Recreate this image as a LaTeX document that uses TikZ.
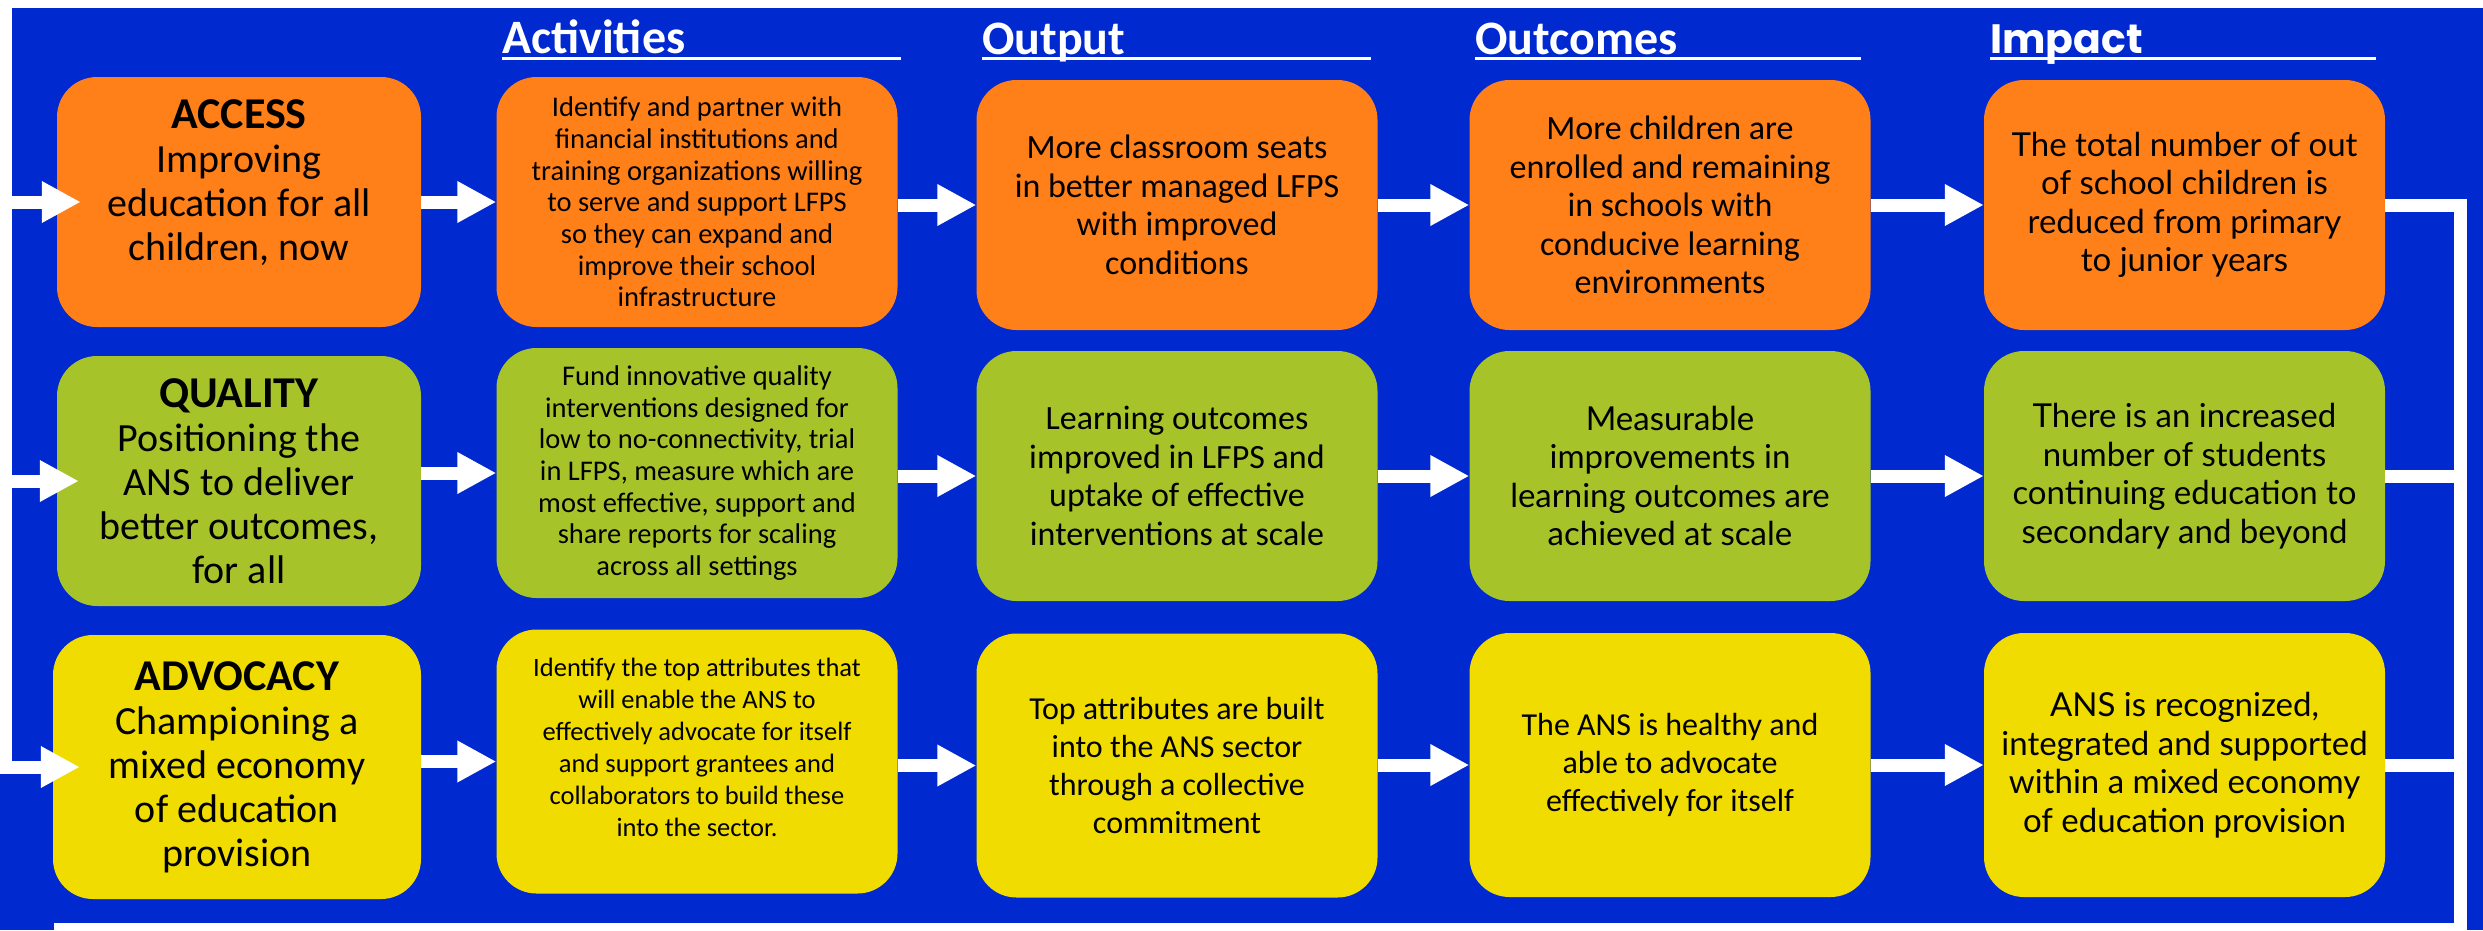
\documentclass[tikz,border=0pt]{standalone}
\usepackage{fontspec}
\setmainfont{Carlito}
\newfontfamily\latofont{Lato}
\newfontfamily\popfont{Poppins}
\usetikzlibrary{arrows.meta,positioning}

\definecolor{bgblue}{RGB}{0,41,207}
\definecolor{accorange}{RGB}{255,127,24}
\definecolor{qualgreen}{RGB}{166,196,42}
\definecolor{advyellow}{RGB}{240,220,0}

\begin{document}
\begin{tikzpicture}[x=1pt, y=-1pt,
    cell/.style={rounded corners=40pt, minimum width=401pt, minimum height=250pt, inner sep=0pt, align=center, text=black},
    lastrow/.style={minimum height=264pt},
    title/.style={minimum width=364pt, font=\fontsize{40}{44}\selectfont},
    act/.style={font=\fontsize{28.5}{31.7}\selectfont},
    outp/.style={font=\fontsize{34}{38.5}\selectfont},
    lato/.style={font=\latofont\fontsize{33}{38.5}\selectfont},
    head/.style={anchor=base west, inner sep=0pt, text=white, font=\bfseries\fontsize{48}{50}\selectfont},
    uline/.style={white, line width=3pt},
    flow/.style={white, line width=13pt, -{Triangle[length=39pt, width=39pt]}},
    loopline/.style={white, line width=13pt}
]
    \useasboundingbox (0,0) rectangle (2483,930);
    \clip (0,0) rectangle (2483,930);

    % Background
    \fill[white] (0,0) rectangle (2483,930);
    \fill[bgblue] (0,8) rectangle (2483,930);

    % Column headings
    \node[head] (hAct) at (502,53) {Activities};
    \node[head] (hOut) at (982,54) {Output};
    \node[head] (hOcm) at (1475,54) {Outcomes};
    \node[head, font=\popfont\bfseries\fontsize{41}{44}\selectfont] (hImp) at (1990,53) {Impact};
    \draw[uline] ([yshift=-5pt]hAct.base west) -- ++(399,0);
    \draw[uline] ([yshift=-4pt]hOut.base west) -- ++(389,0);
    \draw[uline] ([yshift=-4pt]hOcm.base west) -- ++(386,0);
    \draw[uline] ([yshift=-5pt]hImp.base west) -- ++(386,0);

    % Row 1: access
    \node[cell, title, fill=accorange] (acc) at (239,202)
        {\textbf{\fontsize{44}{44}\selectfont ACCESS}\\Improving\\education for all\\children, now\\[-1pt]\rule{0pt}{0pt}};
    \node[cell, act, fill=accorange] (act1) at (697,202)
        {Identify and partner with\\financial institutions and\\training organizations willing\\to serve and support LFPS\\so they can expand and\\improve their school\\infrastructure};
    \node[cell, outp, fill=accorange] (out1) at (1177,205)
        {More classroom seats\\in better managed LFPS\\with improved\\conditions};
    \node[cell, outp, fill=accorange] (ocm1) at (1670,205)
        {More children are\\enrolled and remaining\\in schools with\\conducive learning\\environments};
    \node[cell, lato, fill=accorange] (imp1) at (2184.5,205)
        {The total number of out\\of school children is\\reduced from primary\\to junior years};

    % Row 2: quality
    \node[cell, title, fill=qualgreen] (qual) at (239,481)
        {\textbf{\fontsize{44}{44}\selectfont QUALITY}\\Positioning the\\ANS to deliver\\better outcomes,\\for all};
    \node[cell, act, fill=qualgreen] (act2) at (697,473)
        {Fund innovative quality\\interventions designed for\\low to no-connectivity, trial\\in LFPS, measure which are\\most effective, support and\\share reports for scaling\\across all settings};
    \node[cell, outp, fill=qualgreen] (out2) at (1177,476)
        {Learning outcomes\\improved in LFPS and\\uptake of effective\\interventions at scale};
    \node[cell, lato, fill=qualgreen] (ocm2) at (1670,476)
        {Measurable\\improvements in\\learning outcomes are\\achieved at scale};
    \node[cell, lato, fill=qualgreen] (imp2) at (2184.5,476)
        {There is an increased\\number of students\\continuing education to\\secondary and beyond};

    % Row 3: advocacy
    \node[cell, title, lastrow, minimum width=368pt, fill=advyellow] (adv) at (237,767)
        {\textbf{\fontsize{44}{44}\selectfont ADVOCACY}\\Championing a\\mixed economy\\of education\\provision};
    \node[cell, lastrow, fill=advyellow, font=\fontsize{26.5}{32}\selectfont] (act3) at (697,761.5)
        {Identify the top attributes that\\will enable the ANS to\\effectively advocate for itself\\and support grantees and\\collaborators to build these\\into the sector.\\[-3pt]\rule{0pt}{0pt}};
    \node[cell, lastrow, fill=advyellow, font=\fontsize{32}{38}\selectfont] (out3) at (1177,765.5)
        {Top attributes are built\\into the ANS sector\\through a collective\\commitment};
    \node[cell, lastrow, fill=advyellow, font=\fontsize{32}{38}\selectfont] (ocm3) at (1670,765)
        {The ANS is healthy and\\able to advocate\\effectively for itself};
    \node[cell, lastrow, lato, fill=advyellow] (imp3) at (2184.5,765)
        {ANS is recognized,\\integrated and supported\\within a mixed economy\\of education provision};

    % Feedback loop
    \coordinate (lt) at (5.5,0);
    \coordinate (rc) at (2460.5,929.5);
    \coordinate (bl) at (54,929.5);
    \draw[loopline] (imp1.east) -| (rc) -- (bl);
    \draw[loopline] (imp2.east) -- (imp2.east -| rc);
    \draw[loopline] (imp3.east) -- (imp3.east -| rc);
    \draw[flow] (lt) |- ([xshift=27pt]adv.west);
    \draw[flow] (lt |- acc.west) -- ([xshift=24pt]acc.west);
    \draw[flow] (lt |- qual.west) -- ([xshift=22pt]qual.west);

    % Flow arrows
    \draw[flow] (acc.east |- act1.west) -- (act1.west);
    \draw[flow] (act1.east |- out1.west) -- (out1.west);
    \draw[flow] (out1.east |- ocm1.west) -- (ocm1.west);
    \draw[flow] (ocm1.east |- imp1.west) -- (imp1.west);
    \draw[flow] (qual.east |- act2.west) -- (act2.west);
    \draw[flow] (act2.east |- out2.west) -- (out2.west);
    \draw[flow] (out2.east |- ocm2.west) -- (ocm2.west);
    \draw[flow] (ocm2.east |- imp2.west) -- (imp2.west);
    \draw[flow] (adv.east |- act3.west) -- (act3.west);
    \draw[flow] (act3.east |- out3.west) -- (out3.west);
    \draw[flow] (out3.east |- ocm3.west) -- (ocm3.west);
    \draw[flow] (ocm3.east |- imp3.west) -- (imp3.west);
\end{tikzpicture}
\end{document}
